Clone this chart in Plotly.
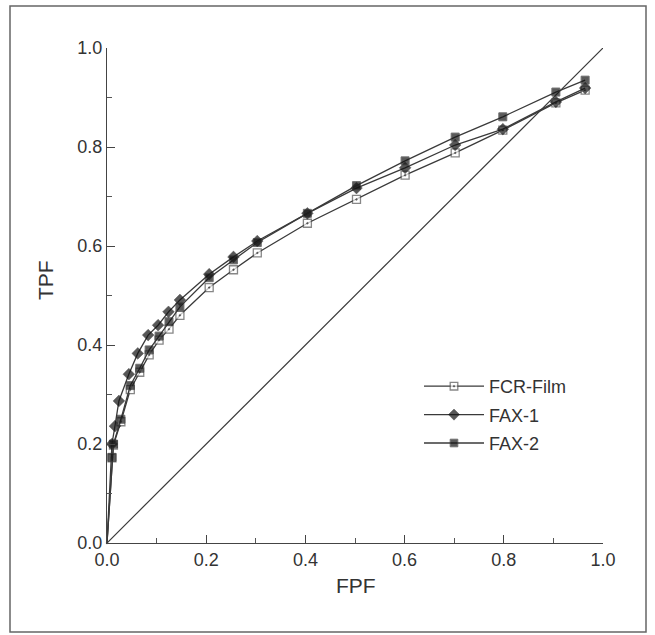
import plotly.graph_objects as go

# ---- data (FPF, TPF) ----
fcr_fpf = [0.0, 0.010, 0.013, 0.028, 0.047, 0.066, 0.085, 0.105, 0.125, 0.147,
           0.206, 0.255, 0.303, 0.404, 0.503, 0.601, 0.702, 0.798, 0.905, 0.964]
fcr_tpf = [0.0, 0.172, 0.198, 0.245, 0.310, 0.345, 0.380, 0.410, 0.432, 0.460,
           0.516, 0.552, 0.586, 0.646, 0.694, 0.743, 0.788, 0.834, 0.889, 0.915]

fax1_fpf = [0.0, 0.010, 0.016, 0.024, 0.044, 0.062, 0.083, 0.103, 0.124, 0.147,
            0.206, 0.255, 0.303, 0.404, 0.503, 0.601, 0.702, 0.798, 0.905, 0.964]
fax1_tpf = [0.0, 0.200, 0.236, 0.287, 0.341, 0.383, 0.420, 0.440, 0.467, 0.491,
            0.543, 0.578, 0.610, 0.666, 0.717, 0.758, 0.804, 0.836, 0.891, 0.919]

fax2_fpf = [0.0, 0.010, 0.013, 0.028, 0.047, 0.066, 0.085, 0.105, 0.125, 0.147,
            0.206, 0.255, 0.303, 0.404, 0.503, 0.601, 0.702, 0.798, 0.905, 0.964]
fax2_tpf = [0.0, 0.173, 0.200, 0.250, 0.318, 0.353, 0.390, 0.418, 0.447, 0.477,
            0.536, 0.572, 0.607, 0.666, 0.722, 0.772, 0.820, 0.861, 0.911, 0.935]

chance_fpf = [0.0, 1.0]
chance_tpf = [0.0, 1.0]

tick_vals = [0.0, 0.2, 0.4, 0.6, 0.8, 1.0]
tick_text = ["0.0", "0.2", "0.4", "0.6", "0.8", "1.0"]

LINE = "#3a3a3a"
FONT = "Liberation Sans, Arial, Helvetica, sans-serif"

def sizes(n, s):
    return [0] + [s] * (n - 1)

fig = go.Figure()

fig.add_trace(go.Scatter(
    x=chance_fpf, y=chance_tpf, mode="lines",
    line=dict(color=LINE, width=1.2), showlegend=False, hoverinfo="skip"))

fig.add_trace(go.Scatter(
    x=fcr_fpf, y=fcr_tpf, mode="lines+markers", name="FCR-Film",
    legendgroup="a", cliponaxis=False,
    line=dict(color=LINE, width=1.3),
    marker=dict(symbol="square-dot", size=sizes(len(fcr_fpf), 8), color="white",
                line=dict(color="#555555", width=1.3))))

fig.add_trace(go.Scatter(
    x=fax1_fpf, y=fax1_tpf, mode="lines+markers", name="FAX-1",
    legendgroup="b", cliponaxis=False,
    line=dict(color=LINE, width=1.3),
    marker=dict(symbol="diamond", size=sizes(len(fax1_fpf), 9), color="#111111",
                line=dict(color="#111111", width=0.5))))

fig.add_trace(go.Scatter(
    x=fax2_fpf, y=fax2_tpf, mode="lines+markers", name="FAX-2",
    legendgroup="c", cliponaxis=False,
    line=dict(color=LINE, width=1.3),
    marker=dict(symbol="square", size=sizes(len(fax2_fpf), 8), color="#151515",
                line=dict(color="#333333", width=1.0))))

axis_common = dict(
    range=[0, 1], showline=True, linecolor="#444444", linewidth=1.2,
    showgrid=False, zeroline=False, ticks="inside", ticklen=8, tickwidth=1.1,
    tickcolor="#444444", tickvals=tick_vals, ticktext=tick_text,
    tickfont=dict(family=FONT, size=18, color="#333333"),
    minor=dict(ticks="inside", ticklen=5, tickwidth=1, tickcolor="#555555", dtick=0.1),
    mirror=False, fixedrange=True)

fig.update_xaxes(**axis_common)
fig.update_yaxes(**axis_common)

L, R, T, B = 107, 52, 48, 92
W = 655 - L - R
H = 635 - T - B

def px(xp):
    return (xp - L) / W

def py(yp):
    return (635 - B - yp) / H

fig.add_shape(type="rect", xref="paper", yref="paper",
              x0=px(10), x1=px(646), y0=py(632), y1=py(6),
              line=dict(color="#666666", width=1.5), fillcolor="rgba(0,0,0,0)", layer="below")

title_font = dict(family=FONT, size=21, color="#333333")
fig.add_annotation(text="FPF", xref="paper", yref="paper", x=px(356), y=py(585),
                   showarrow=False, font=title_font, xanchor="center", yanchor="middle")
fig.add_annotation(text="TPF", xref="paper", yref="paper", x=px(45), y=py(280),
                   showarrow=False, font=title_font, textangle=-90,
                   xanchor="center", yanchor="middle")

fig.update_layout(
    width=655, height=635,
    margin=dict(l=L, r=R, t=T, b=B),
    paper_bgcolor="white", plot_bgcolor="white",
    font=dict(family=FONT, color="#333333"),
    legend=dict(x=px(419), y=py(368), xanchor="left", yanchor="top",
                font=dict(family=FONT, size=18, color="#333333"),
                bgcolor="rgba(0,0,0,0)", traceorder="grouped", tracegroupgap=2,
                itemwidth=60),
)

fig.write_html("out.html", config={"displayModeBar": False},
               post_script="document.body.style.margin='0';document.body.style.overflow='hidden';")
